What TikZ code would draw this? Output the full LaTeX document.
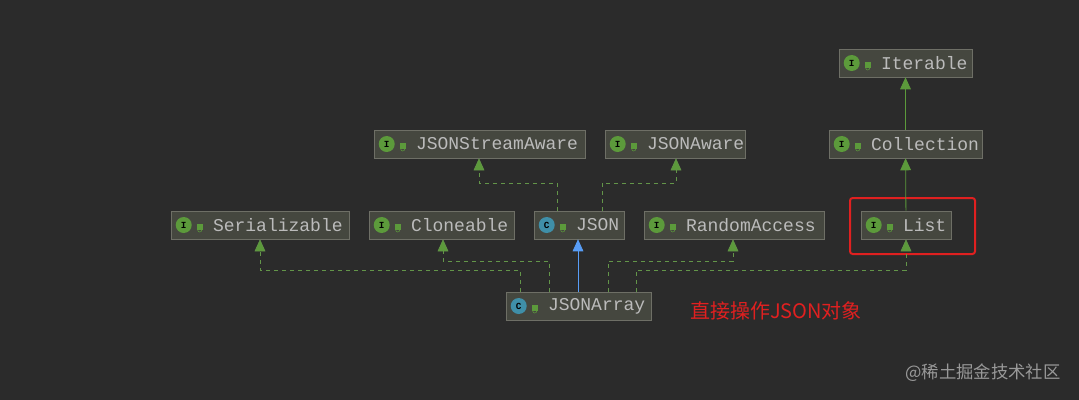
\documentclass[tikz,border=0pt]{standalone}
\usepackage{fontspec}
\setmonofont{Liberation Mono}
\newfontfamily\cjk{Noto Sans CJK SC}
\usetikzlibrary{positioning,calc,arrows.meta}
\definecolor{bgdark}{HTML}{2B2B2B}
\definecolor{boxfill}{HTML}{45473F}
\definecolor{boxline}{HTML}{6E6F66}
\definecolor{txtgray}{HTML}{BBBBBB}
\definecolor{igreen}{HTML}{5C9A3B}
\definecolor{cblue}{HTML}{3F8FA8}
\definecolor{arrowblue}{HTML}{589DF6}
\definecolor{markred}{HTML}{E02020}
\tikzset{
  cbox/.style={draw=boxline,fill=boxfill,minimum height=28*0.75pt,inner sep=0pt},
  ctext/.style={anchor=west,text=txtgray,font=\ttfamily\fontsize{13.5}{14}\selectfont,inner sep=0pt},
  ico/.style={circle,fill=#1,minimum size=12pt,inner sep=0pt,text=black,font=\ttfamily\bfseries\fontsize{7}{7}\selectfont},
  impl/.style={draw=igreen!80!gray,dashed,thin,-{Triangle[width=8pt,length=9pt,fill=igreen]}},
  ext/.style={draw=igreen,semithick,-{Triangle[width=8pt,length=9pt,fill=igreen]}}
}
% box: name, x1, x2, y, label, letter, icon colour
\newcommand{\umlbox}[7]{%
  \node[cbox,minimum width={(#3-#2)*0.75pt}] (#1) at ({(#2+#3)/2},#4) {};
  \node[ico=#7] at ($(#1.west)+(13,0)$) {#6};
  \fill[igreen] ($(#1.west)+(26,-1)$) rectangle +(6,6);
  \draw[igreen,thin] ($(#1.west)+(27,5)$) arc(180:0:2);
  \node[ctext] at ($(#1.west)+(42,0)$) {#5};
}
\begin{document}
\begin{tikzpicture}[x=0.75pt,y=-0.75pt]
\fill[bgdark] (0,0) rectangle (1079,400);
\useasboundingbox (0,0) rectangle (1079,400);
%Boxes
\umlbox{iterable}{839}{972}{63}{Iterable}{I}{igreen}
\umlbox{collection}{829}{982}{144}{Collection}{I}{igreen}
\umlbox{streamaware}{374}{585}{144}{JSONStreamAware}{I}{igreen}
\umlbox{aware}{605}{745}{144}{JSONAware}{I}{igreen}
\umlbox{serial}{171}{349}{225}{Serializable}{I}{igreen}
\umlbox{clone}{369}{514}{225}{Cloneable}{I}{igreen}
\umlbox{json}{534}{624}{225}{JSON}{C}{cblue}
\umlbox{random}{644}{824}{225}{RandomAccess}{I}{igreen}
\umlbox{list}{861}{951}{225}{List}{I}{igreen}
\umlbox{array}{506}{651}{306}{JSONArray}{C}{cblue}
\draw[markred,line width=1.5pt,rounded corners=2pt] (850,198) rectangle (975,254);
%Edges
\draw[impl] (array.north -| 520,0) |- (260,270) -- (serial.south -| 260,0);
\draw[impl] (array.north -| 549,0) |- (443,261) -- (clone.south -| 443,0);
\draw[draw=arrowblue,semithick,-{Triangle[width=8pt,length=9pt,fill=arrowblue]}] (array.north -| 578,0) -- (json.south -| 578,0);
\draw[impl] (array.north -| 608,0) |- (733,261) -- (random.south -| 733,0);
\draw[impl] (array.north -| 636,0) |- (906,270) -- (list.south -| 906,0);
\draw[impl] (json.north -| 557,0) |- (479,183) -- (streamaware.south -| 479,0);
\draw[impl] (json.north -| 602,0) |- (676,183) -- (aware.south -| 676,0);
\draw[ext] (list) -- (collection);
\draw[ext] (collection) -- (iterable);
%Notes
\node[text=markred,font=\cjk\fontsize{15}{17}\selectfont] (note) at (776,311) {直接操作JSON对象};
\node[text=gray!80,font=\cjk\fontsize{13}{15}\selectfont] (mark) at (983,373) {@稀土掘金技术社区};
\end{tikzpicture}
\end{document}
